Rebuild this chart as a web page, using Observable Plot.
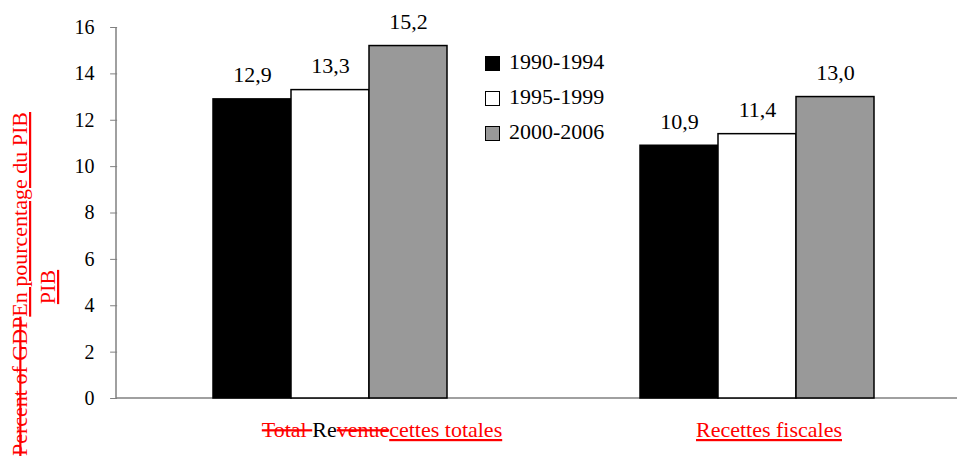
<!DOCTYPE html>
<html><head><meta charset="utf-8">
<script src="https://cdn.jsdelivr.net/npm/d3@7"></script>
<script src="https://cdn.jsdelivr.net/npm/@observablehq/plot@0.6"></script>
<style>
body{margin:0;background:#fff}
#chart{position:relative;width:957px;height:457px;overflow:hidden;font-family:'Liberation Serif','Times New Roman',serif}
.lg-box{position:absolute;width:15px;height:15px;border:1.5px solid #000;box-sizing:border-box}
.lg-text{position:absolute;font-size:22px;line-height:26px;height:26px;color:#000;white-space:nowrap;font-family:'Liberation Serif','Times New Roman',serif}
</style>
</head><body><div id="chart"></div>
<script>
const groups = ["Recettes totales", "Recettes fiscales"];
const periods = ["1990-1994", "1995-1999", "2000-2006"];
const recettesTotales = [12.9, 13.3, 15.2];
const recettesFiscales = [10.9, 11.4, 13.0];
const periodColors = ["#000000", "#ffffff", "#999999"];
const yTicks = [0, 2, 4, 6, 8, 10, 12, 14, 16];
const groupLabels = [
  [{t: "Total ", c: "red", d: "line-through"}, {t: "Re", c: "black", d: "none"}, {t: "venue", c: "red", d: "line-through"}, {t: "cettes totales", c: "red", d: "underline"}],
  [{t: "Recettes fiscales", c: "red", d: "underline"}]
];
const yLabelLines = [
  [{t: "Percent of GDP", d: "line-through"}, {t: "En pourcentage du PIB", d: "underline"}],
  [{t: "PIB", d: "underline"}]
];

const data = [];
periods.forEach((p, i) => {
  data.push({group: groups[0], period: p, value: recettesTotales[i]});
  data.push({group: groups[1], period: p, value: recettesFiscales[i]});
});

const fmt = d => d.toFixed(1).replace(".", ",");
const FONT = "'Liberation Serif', 'Times New Roman', serif";

const W = 957, H = 457, ML = 116, MR = 0, MT = 27, MB = 59;
const fxOpts = {paddingInner: 0.453, paddingOuter: 0.209, align: 0.536};
// offset of the first facet from the frame's left edge, so the y axis sits at the frame's left
const firstBandStart = d3.scaleBand().domain(groups).range([ML, W - MR])
  .paddingInner(fxOpts.paddingInner).paddingOuter(fxOpts.paddingOuter).align(fxOpts.align)(groups[0]);
const axisShift = -(firstBandStart - ML);

const chart = Plot.plot({
  width: W, height: H,
  marginLeft: ML, marginRight: MR, marginTop: MT, marginBottom: MB,
  fx: {domain: groups, ...fxOpts, axis: null, label: null},
  x: {domain: periods, padding: 0, axis: null},
  y: {domain: [0, 16], axis: null},
  color: {domain: periods, range: periodColors},
  marks: [
    Plot.axisY({ticks: yTicks, tickSize: 7, tickPadding: 16, stroke: "#808080", fill: "black",
      fontSize: 20, label: null, dx: axisShift}),
    Plot.barY(data, {fx: "group", x: "period", y: "value", fill: "period", stroke: "black", strokeWidth: 1.5}),
    Plot.text(data, {fx: "group", x: "period", y: "value", text: d => fmt(d.value), dy: -24,
      fontSize: 22, fill: "black"})
  ]
});
const host = document.getElementById("chart");
host.appendChild(chart);

const svg = d3.select(chart).attr("font-family", FONT);
const y = chart.scale("y");
const fx = chart.scale("fx");

// axis lines
svg.insert("line", ":first-child").attr("x1", ML).attr("x2", W - MR).attr("y1", y.apply(0)).attr("y2", y.apply(0))
  .attr("stroke", "#808080").attr("stroke-width", 1.5);
svg.append("line").attr("x1", ML).attr("x2", ML).attr("y1", y.apply(16)).attr("y2", y.apply(0))
  .attr("stroke", "#808080").attr("stroke-width", 1.5);

// category labels (tracked-changes styling)
const labelShift = [52, 12];
groups.forEach((g, i) => {
  const cx = fx.apply(g) + fx.bandwidth / 2 + labelShift[i];
  const t = svg.append("text").attr("x", cx).attr("y", 437).attr("text-anchor", "middle").attr("font-size", 22);
  groupLabels[i].forEach(s => t.append("tspan").text(s.t).attr("fill", s.c).style("text-decoration", s.d));
});

// y label
const yPos = [[27, 284], [55, 287]];
yLabelLines.forEach((line, i) => {
  const t = svg.append("text").attr("transform", `translate(${yPos[i][0]},${yPos[i][1]}) rotate(-90)`)
    .attr("text-anchor", "middle").attr("font-size", 22).attr("fill", "red");
  line.forEach(s => t.append("tspan").text(s.t).style("text-decoration", s.d));
});

// serif font on every svg text
svg.selectAll("text, tspan").each(function() { this.style.setProperty("font-family", FONT, "important"); });

// legend (HTML overlay)
const rowY = [63, 98, 133];
periods.forEach((p, i) => {
  const box = document.createElement("div");
  box.className = "lg-box";
  box.style.left = "485px"; box.style.top = (rowY[i] - 7) + "px";
  box.style.background = periodColors[i];
  host.appendChild(box);
  const tx = document.createElement("div");
  tx.className = "lg-text";
  tx.style.left = "509px"; tx.style.top = (rowY[i] - 14) + "px";
  tx.textContent = p;
  host.appendChild(tx);
});
getComputedStyle(chart.querySelector("text")).fontFamily;
</script>
</body></html>
